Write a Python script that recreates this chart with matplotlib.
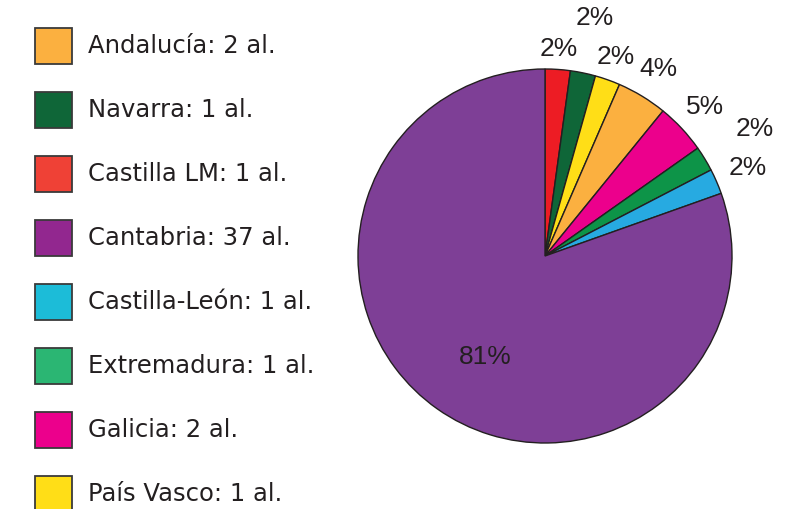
import numpy as np
import matplotlib
matplotlib.use('Agg')
import matplotlib.pyplot as plt
from matplotlib.patches import Rectangle

plt.rcParams['font.family'] = ['DejaVu Sans']

# pie slices, clockwise from 12 o'clock
regiones = ['Castilla LM', 'Navarra', 'País Vasco', 'Andalucía', 'Galicia',
            'Extremadura', 'Castilla-León', 'Cantabria']
alumnos = [1, 1, 1, 2, 2, 1, 1, 37]
porcentajes = ['2%', '2%', '2%', '4%', '5%', '2%', '2%', '81%']
colores_pie = ['#ED1C24', '#0F6638', '#FFDE17', '#FBB040', '#EC008C',
               '#0D9448', '#27AAE1', '#7E3F96']

# legend, in the printed order
leyenda = ['Andalucía', 'Navarra', 'Castilla LM', 'Cantabria', 'Castilla-León',
           'Extremadura', 'Galicia', 'País Vasco']
colores_leyenda = ['#FBB040', '#0F6638', '#EF4136', '#92278F', '#1CBCD8',
                   '#2BB673', '#EC008C', '#FFDE17']

# radial position of each percentage label (fraction of radius)
dist_etiqueta = [1.11, 1.30, 1.13, 1.17, 1.17, 1.31, 1.18, 0.66]

txt = '#231F20'
W, H = 807, 509

fig = plt.figure(figsize=(W / 100, H / 100), dpi=100)

##################################################
# pie
##################################################
cx, cy, r = 545, 256, 187
ax = fig.add_axes([(cx - r) / W, (H - cy - r) / H, 2 * r / W, 2 * r / H])
wedges, _ = ax.pie(alumnos, colors=colores_pie, startangle=90, counterclock=False,
                   wedgeprops=dict(edgecolor=txt, linewidth=1.0))
ax.set_xlim(-1, 1)
ax.set_ylim(-1, 1)
ax.set_aspect('equal')
ax.axis('off')

for w, lab, d in zip(wedges, porcentajes, dist_etiqueta):
    ang = np.deg2rad((w.theta1 + w.theta2) / 2)
    x, y = d * np.cos(ang), d * np.sin(ang)
    if d < 1:
        x += 0.06  # big slice label sits a bit right of the bisector
    ax.text(x, y, lab, ha='center', va='center',
            fontsize=19, color=txt, family='Liberation Sans', clip_on=False)

##################################################
# legend (pixel coordinates)
##################################################
lg = fig.add_axes([0, 0, 1, 1])
lg.set_xlim(0, W)
lg.set_ylim(H, 0)
lg.axis('off')

cuenta = dict(zip(regiones, alumnos))
for i, (nombre, col) in enumerate(zip(leyenda, colores_leyenda)):
    yc = 46 + i * 64
    lg.add_patch(Rectangle((35, yc - 18), 37, 36, facecolor=col, edgecolor='#3a3a3a',
                           linewidth=1.3))
    lg.text(88, yc, '%s: %d al.' % (nombre, cuenta[nombre]), ha='left', va='center',
            fontsize=17.5, color=txt)

fig.savefig('out.png', dpi=100)
